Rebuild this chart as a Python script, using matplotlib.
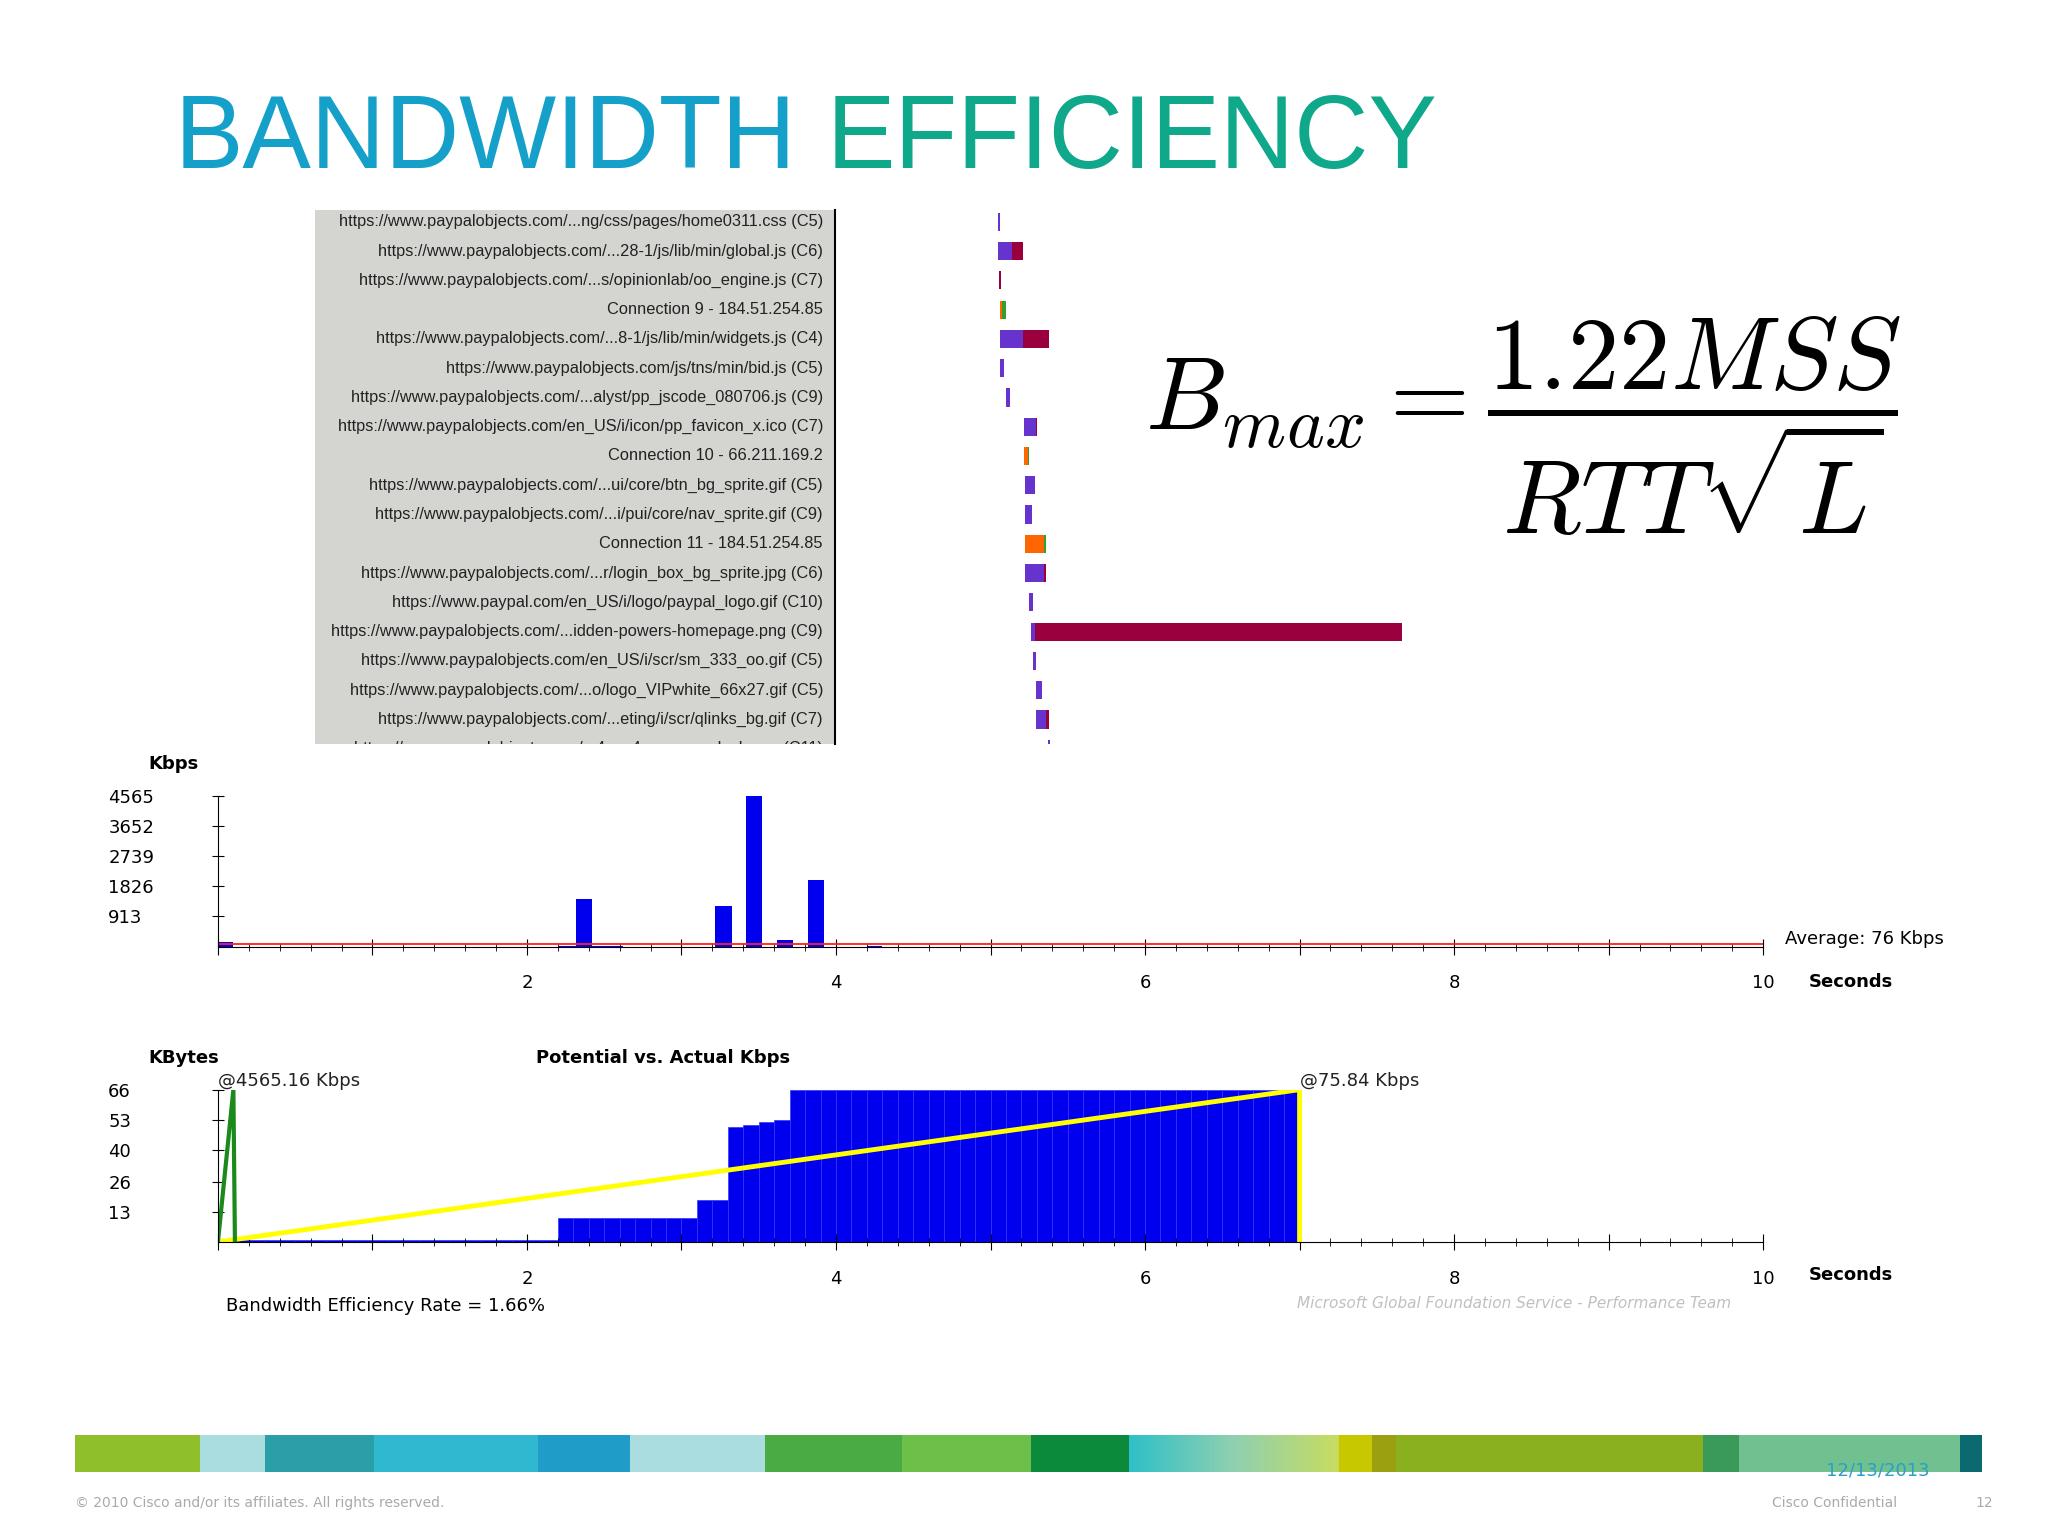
import numpy as np
import matplotlib.pyplot as plt
from matplotlib.colors import LinearSegmentedColormap

plt.rcParams['mathtext.fontset'] = 'cm'

# ---- data ----
labels = [
    "https://www.paypalobjects.com/...ng/css/pages/home0311.css (C5)",
    "https://www.paypalobjects.com/...28-1/js/lib/min/global.js (C6)",
    "https://www.paypalobjects.com/...s/opinionlab/oo_engine.js (C7)",
    "Connection 9 - 184.51.254.85",
    "https://www.paypalobjects.com/...8-1/js/lib/min/widgets.js (C4)",
    "https://www.paypalobjects.com/js/tns/min/bid.js (C5)",
    "https://www.paypalobjects.com/...alyst/pp_jscode_080706.js (C9)",
    "https://www.paypalobjects.com/en_US/i/icon/pp_favicon_x.ico (C7)",
    "Connection 10 - 66.211.169.2",
    "https://www.paypalobjects.com/...ui/core/btn_bg_sprite.gif (C5)",
    "https://www.paypalobjects.com/...i/pui/core/nav_sprite.gif (C9)",
    "Connection 11 - 184.51.254.85",
    "https://www.paypalobjects.com/...r/login_box_bg_sprite.jpg (C6)",
    "https://www.paypal.com/en_US/i/logo/paypal_logo.gif (C10)",
    "https://www.paypalobjects.com/...idden-powers-homepage.png (C9)",
    "https://www.paypalobjects.com/en_US/i/scr/sm_333_oo.gif (C5)",
    "https://www.paypalobjects.com/...o/logo_VIPwhite_66x27.gif (C5)",
    "https://www.paypalobjects.com/...eting/i/scr/qlinks_bg.gif (C7)",
    "https://www.paypalobjects.com/...4cea4ca_arrow_lock.png (C11)",
]
PU, CR, GR, OR = "#6633cc", "#99003d", "#33a02c", "#ff6600"
wf_start = [120, 120, 121, 122, 122, 122, 126, 140, 140, 141, 141, 141, 141, 144, 145, 147, 149, 149, 158]
wf_segs = [
    [(PU, 2)], [(PU, 11), (CR, 8)], [(CR, 1.5)], [(OR, 1), (GR, 3)],
    [(PU, 17), (CR, 20)], [(PU, 3)], [(PU, 3)], [(PU, 9), (CR, 1)],
    [(OR, 3), (GR, 1)], [(PU, 7)], [(PU, 5)], [(OR, 14), (GR, 2)],
    [(PU, 14), (CR, 2)], [(PU, 3)], [(PU, 3), (CR, 280)], [(PU, 2)],
    [(PU, 5)], [(PU, 8), (CR, 2)], [(PU, 2)],
]

kbps_x = [0.0, 2.2, 2.32, 2.42, 3.22, 3.42, 3.62, 3.82, 4.2]
kbps_w = [0.1, 0.12, 0.1, 0.2, 0.11, 0.1, 0.1, 0.1, 0.1]
kbps_h = [125, 30, 1450, 30, 1230, 4565, 205, 2020, 30]
kbps_ticks = [913, 1826, 2739, 3652, 4565]
avg_kbps = 76

cum_x = np.round(np.arange(0, 7.0, 0.1), 1)
cum_h = ([1.0] * 22 + [10.4] * 9 + [18.3] * 2 + [50.0, 50.8, 52.0, 52.8] + [66] * 33)
kb_ticks = [13, 26, 40, 53, 66]
potential_x = [0.0, 0.1, 0.11]
potential_y = [0, 66, 0]
actual_x = [0.0, 7.0, 7.0]
actual_y = [0, 66, 0]

strip = [(57, 152, "#8fbf2a"), (152, 202, "#aadde0"), (202, 285, "#2a9fa8"),
         (285, 410, "#30b8d0"), (410, 480, "#1f9cc8"), (480, 583, "#aadde0"),
         (583, 687, "#4aaa44"), (687, 785, "#6cc04a"), (785, 860, "#0a8a3a"),
         (1020, 1045, "#c8c800"), (1045, 1063, "#9aa010"), (1063, 1297, "#8ab020"),
         (1297, 1325, "#3a9a5a"), (1325, 1493, "#70c090"), (1493, 1510, "#0a6a70")]

W, H = 1560, 1170
def fx(x): return x / W
def fy(y): return 1 - y / H
def rect(x0, y0, x1, y1): return [fx(x0), fy(y1), fx(x1) - fx(x0), fy(y0) - fy(y1)]

fig = plt.figure(figsize=(20.48, 15.36), dpi=100)
fig.patch.set_facecolor("white")

fig.text(fx(133), fy(108), "BANDWIDTH", fontsize=74, color="#14a0c8",
         family="Liberation Sans", va="center")
fig.text(fx(630), fy(108), "EFFICIENCY", fontsize=74, color="#0fa88a",
         family="Liberation Sans", va="center")

# waterfall labels panel
ylo, yhi = 17.85, -0.4
axl = fig.add_axes(rect(240, 160, 636, 567))
axl.set_facecolor("#d4d4d0")
axl.set_xlim(0, 1); axl.set_ylim(ylo, yhi)
axl.set_xticks([]); axl.set_yticks([])
for s in ["top", "left", "bottom"]:
    axl.spines[s].set_visible(False)
axl.spines["right"].set_linewidth(1.5)
for i, lab in enumerate(labels):
    axl.text(0.977, i, lab, ha="right", va="center", fontsize=11.8,
             color="#222222", clip_on=True, family="Liberation Sans")

axb = fig.add_axes(rect(640, 160, 1100, 567))
axb.set_xlim(0, 460); axb.set_ylim(ylo, yhi)
axb.axis("off")
for i, (st, segs) in enumerate(zip(wf_start, wf_segs)):
    left = st
    for c, w in segs:
        axb.barh(i, w, left=left, height=0.62, color=c, linewidth=0)
        left += w

fig.text(fx(1160), fy(325), r"$B_{max} = \dfrac{1.22MSS}{RTT\sqrt{L}}$",
         fontsize=74, ha="center", va="center")

# chart 1
ax1 = fig.add_axes(rect(166, 606, 1343, 721))
ax1.bar(kbps_x, kbps_h, width=kbps_w, align="edge", color="#0000ee", linewidth=0)
ax1.axhline(avg_kbps, color="#ff2020", lw=1.3)
ax1.set_xlim(0, 10); ax1.set_ylim(0, 4565)
ax1.set_yticks(kbps_ticks)
ax1.set_xticks(np.arange(0, 10.01, 1))
ax1.set_xticklabels(["" if k % 2 or k == 0 else str(k) for k in range(11)])
ax1.set_xticks(np.arange(0, 10.01, 0.2), minor=True)

ax2 = fig.add_axes(rect(166, 830, 1343, 946))
ax2.bar(cum_x, cum_h, width=0.1, align="edge", color="#0000ee",
        edgecolor="#3333ff", linewidth=0.5)
ax2.plot(actual_x, actual_y, color="#ffff00", lw=3.5)
ax2.plot(potential_x, potential_y, color="#1a8a1a", lw=3)
ax2.set_xlim(0, 10); ax2.set_ylim(0, 66)
ax2.set_yticks(kb_ticks)
ax2.set_xticks(np.arange(0, 10.01, 1))
ax2.set_xticklabels(["" if k % 2 or k == 0 else str(k) for k in range(11)])
ax2.set_xticks(np.arange(0, 10.01, 0.2), minor=True)
ax2.text(0.0, 66, "@4565.16 Kbps", fontsize=13, color="#222222", va="bottom")
ax2.text(7.0, 66, "@75.84 Kbps", fontsize=13, color="#222222", va="bottom", ha="left")

for ax in (ax1, ax2):
    ax.set_facecolor("none")
    for s in ["top", "right"]:
        ax.spines[s].set_visible(False)
    ax.tick_params(axis="x", which="major", direction="inout", length=12, labelsize=13, pad=14)
    ax.tick_params(axis="x", which="minor", direction="inout", length=6)
    ax.tick_params(axis="y", direction="inout", length=8, labelsize=13)
    for t in ax.get_yticklabels():
        t.set_ha("left")
    ax.yaxis.set_tick_params(pad=75)

fig.text(fx(113), fy(582), "Kbps", fontsize=13, weight="bold", va="center")
fig.text(fx(1360), fy(715), "Average: 76 Kbps", fontsize=13, va="center")
fig.text(fx(1378), fy(748), "Seconds", fontsize=13, weight="bold", va="center")
fig.text(fx(113), fy(806), "KBytes", fontsize=13, weight="bold", va="center")
fig.text(fx(408), fy(806), "Potential vs. Actual Kbps", fontsize=13, weight="bold", va="center")
fig.text(fx(1378), fy(971), "Seconds", fontsize=13, weight="bold", va="center")
fig.text(fx(172), fy(995), "Bandwidth Efficiency Rate = 1.66%", fontsize=13, va="center")
fig.text(fx(988), fy(993), "Microsoft Global Foundation Service - Performance Team",
         fontsize=11, style="italic", color="#c0c0c0", va="center")

# footer strip
axs = fig.add_axes(rect(57, 1093, 1510, 1121))
axs.set_xlim(57, 1510); axs.set_ylim(0, 1); axs.axis("off")
for x0, x1, c in strip:
    axs.axvspan(x0, x1, color=c, lw=0)
grad = LinearSegmentedColormap.from_list("g", ["#30c0c8", "#90d0b0", "#c8dc60"])
axs.imshow(np.linspace(0, 1, 100)[None, :], cmap=grad, aspect="auto",
           extent=(860, 1020, 0, 1))
fig.text(fx(1430), fy(1120), "12/13/2013", fontsize=13, color="#2aa0c8", ha="center", va="center")
fig.text(fx(57), fy(1145), "\u00a9 2010 Cisco and/or its affiliates. All rights reserved.",
         fontsize=10, color="#aaaaaa", va="center")
fig.text(fx(1350), fy(1145), "Cisco Confidential", fontsize=10, color="#aaaaaa", va="center")
fig.text(fx(1505), fy(1145), "12", fontsize=10, color="#aaaaaa", va="center")

fig.savefig("out.png", dpi=100)
